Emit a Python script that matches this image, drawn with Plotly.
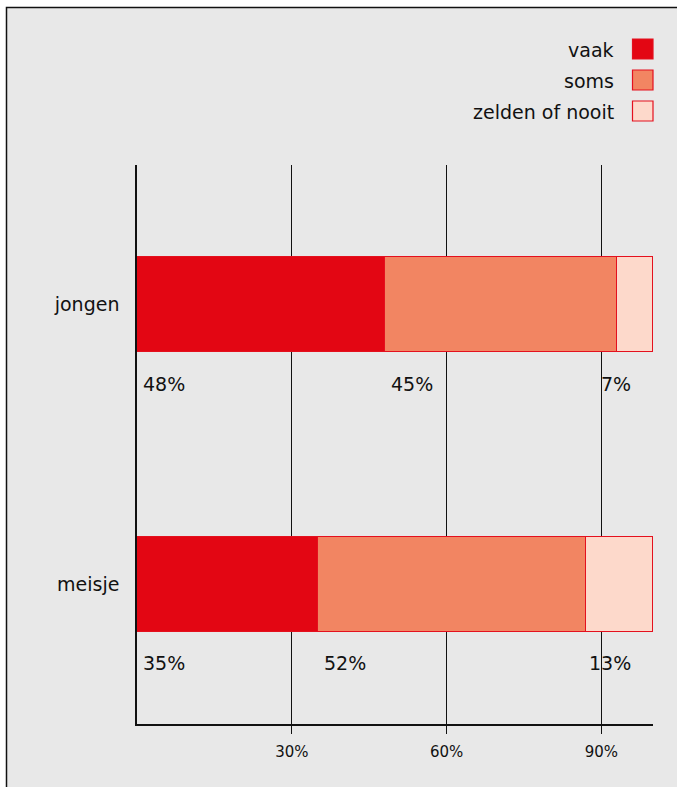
import plotly.graph_objects as go

# Survey answers per group (percentages)
groups = ["jongen", "meisje"]
answers = ["vaak", "soms", "zelden of nooit"]
vaak = [48, 35]
soms = [45, 52]
zelden = [7, 13]
tick_values = [30, 60, 90]
tick_labels = ["30%", "60%", "90%"]

series = [vaak, soms, zelden]
fills = ["#E30613", "#F28562", "#FDD9CB"]
edge = "#E4101E"
font_family = "DejaVu Sans"

W, H = 677, 787
ML, MR, MT, MB = 137, 24, 165, 63
PW, PH = W - ML - MR, H - MT - MB


def px_x(px):
    return (px - ML) / PW


def px_y(py):
    return (H - MB - py) / PH


fig = go.Figure()
for name, vals, col in zip(answers, series, fills):
    fig.add_trace(go.Bar(
        y=groups, x=vals, name=name, orientation="h",
        marker=dict(color=col, line=dict(color=edge, width=1)),
        width=0.34, showlegend=False, hoverinfo="skip",
    ))

# value labels under each segment
annotations = []
for gi, g in enumerate(groups):
    start = 0
    for si, vals in enumerate(series):
        v = vals[gi]
        last = si == len(series) - 1
        annotations.append(dict(
            x=100 if last else start, y=g, xref="x", yref="y",
            text=f"{v}%", showarrow=False,
            xanchor="right" if last else "left", yanchor="middle",
            xshift=-20 if last else 4, yshift=-79,
            font=dict(family=font_family, size=19, color="#111111"),
        ))
        start += v

# legend: text on the left, swatch on the right
shapes = [
    dict(type="rect", xref="paper", yref="paper",
         x0=px_x(6.5), x1=px_x(700), y0=px_y(830), y1=px_y(7.5),
         fillcolor="#E8E8E8", line=dict(color="#111111", width=1.5),
         layer="below"),
]
for i, (name, col) in enumerate(zip(answers, fills)):
    top = 39 + i * 31
    shapes.append(dict(
        type="rect", xref="paper", yref="paper",
        x0=px_x(632.5), x1=px_x(653), y0=px_y(top + 20), y1=px_y(top),
        fillcolor=col, line=dict(color=edge, width=1.2),
    ))
    annotations.append(dict(
        x=px_x(616), y=px_y(top + 11), xref="paper", yref="paper",
        text=name, showarrow=False, xanchor="right", yanchor="middle",
        font=dict(family=font_family, size=19, color="#111111"),
    ))

fig.update_layout(
    width=W, height=H, barmode="stack",
    margin=dict(l=ML, r=MR, t=MT, b=MB, pad=0),
    paper_bgcolor="white", plot_bgcolor="rgba(0,0,0,0)",
    shapes=shapes, annotations=annotations, bargap=0,
    font=dict(family=font_family, color="#111111"),
)
fig.update_xaxes(
    range=[0, 100], tickvals=tick_values, ticktext=tick_labels,
    showgrid=True, gridcolor="#111111", gridwidth=1,
    ticks="outside", ticklen=8, tickcolor="#111111", tickwidth=1,
    showline=True, linecolor="#111111", linewidth=2,
    zeroline=False, tickfont=dict(family=font_family, size=15),
    ticklabelstandoff=5,
)
fig.update_yaxes(
    categoryorder="array", categoryarray=groups, range=[1.5, -0.5],
    showgrid=False, ticks="", showline=True, linecolor="#111111",
    linewidth=1.5, zeroline=False, ticklabelstandoff=12,
    tickfont=dict(family=font_family, size=19),
)

fig.write_html("out.html")
